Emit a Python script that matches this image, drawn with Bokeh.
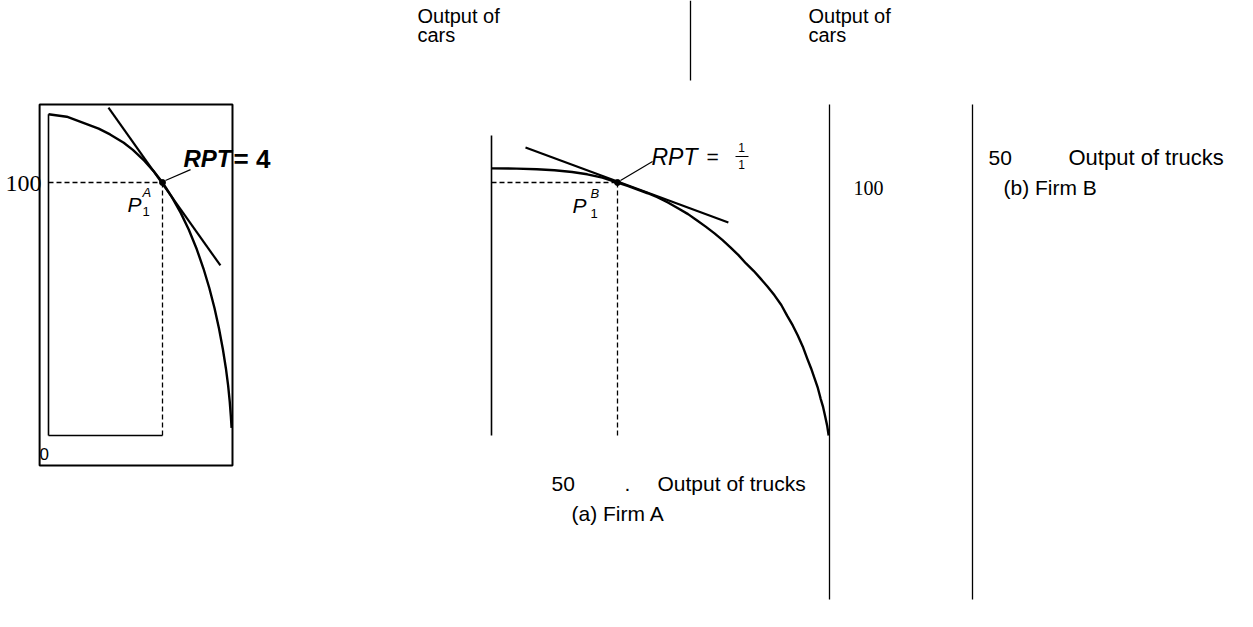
from bokeh.plotting import figure
from bokeh.models import Range1d
from bokeh.core.properties import value
from bokeh.embed import file_html
from bokeh.resources import INLINE

# ---------------- data (economic units: trucks on x, cars on y) ----------------
# Firm A production possibility curve
trucks_a = [0, 8, 15, 22, 27, 33, 37, 42, 46, 50, 54, 58, 61.5, 65, 68, 70.5, 72.8,
            74.8, 76.5, 77.8, 78.8, 79.5, 80, 80.3]
cars_a = [127, 126, 123.7, 121.3, 119, 115.7, 112.9, 108.6, 104.6, 100, 94.4, 88, 81.4,
          73.7, 65.9, 58.4, 50.4, 42.2, 34, 26.6, 19.6, 13.3, 7.3, 3]
tangent_a_trucks = [26.3, 75.4]
tangent_a_cars = [129.6, 67.2]
axis_a_top = 127

# Firm B production possibility curve
trucks_b = [0, 10, 18, 25, 32, 38, 44, 50, 54, 58, 62, 65.8, 70, 74, 78, 81.6, 85, 88.5,
            91.7, 94.8, 98, 101, 104, 106.7, 109.5, 112.3, 115, 117.3, 119.5, 121.5,
            123.5, 125.3, 126.8, 128.2, 129.5, 130.6, 131.6, 132.4, 133.2, 133.8]
cars_b = [105.6, 105.5, 105.26, 104.84, 104.14, 103.24, 101.92, 100, 98.65, 97.2, 95.75,
          94.2, 92.1, 89.8, 87.5, 85, 82.55, 79.9, 77.25, 74.4, 71.3, 68.0, 65.1, 62.1,
          58.9, 55.4, 51.6, 47.4, 43.6, 39.6, 35.2, 30.4, 26.6, 22.6, 18.8, 14.6, 11.2,
          7.6, 3.9, 0]
tangent_b_trucks = [13.5, 94.0]
tangent_b_cars = [113.8, 84.2]
axis_b_top = 118.6

# chosen points P1 (trucks, cars)
p1_trucks = 50
p1_cars = 100

W, H = 1237, 611
p = figure(width=W, height=H, x_range=Range1d(0, W), y_range=Range1d(H, 0),
           output_backend="svg", toolbar_location=None, min_border=0,
           x_axis_type=None, y_axis_type=None)
p.grid.visible = False
p.outline_line_color = None
p.background_fill_color = "white"
p.border_fill_color = "white"


def add_panel(name, ox, oy, sx, sy):
    p.extra_x_ranges[name] = Range1d((0 - ox) / sx, (W - ox) / sx)
    p.extra_y_ranges[name] = Range1d((oy - H) / sy, oy / sy)


add_panel("A", 48, 435, 2.28, 2.53)
add_panel("B", 491, 435, 2.52, 2.53)

SANS = "Liberation Sans"
SERIF = "Liberation Serif"

# ---------------- Panel A ----------------
A = dict(x_range_name="A", y_range_name="A")
p.quad(left=[-3.9], right=[80.7], bottom=[-11.9], top=[130.8], fill_color=None,
       line_color="black", line_width=2, **A)
p.line([0, 0], [axis_a_top, 0], line_color="black", line_width=1.6, **A)
p.line([0, p1_trucks], [0, 0], line_color="black", line_width=1.6, **A)
p.line([0, p1_trucks], [p1_cars, p1_cars], line_color="black", line_width=1.3, line_dash="5 3", **A)
p.line([p1_trucks, p1_trucks], [p1_cars, 0], line_color="black", line_width=1.3, line_dash="5 3", **A)
p.line(trucks_a, cars_a, line_color="black", line_width=2.4, line_join="round", **A)
p.line(tangent_a_trucks, tangent_a_cars, line_color="black", line_width=2.2, **A)
p.line([51.3, 62.3], [100.8, 105.1], line_color="black", line_width=1.2, **A)
p.scatter([p1_trucks], [p1_cars], size=6, color="black", **A)

# ---------------- Panel B ----------------
B = dict(x_range_name="B", y_range_name="B")
p.line([0, 0], [axis_b_top, 0], line_color="black", line_width=1.6, **B)
p.line([0, p1_trucks], [p1_cars, p1_cars], line_color="black", line_width=1.3, line_dash="5 3", **B)
p.line([p1_trucks, p1_trucks], [p1_cars, 0], line_color="black", line_width=1.3, line_dash="5 3", **B)
p.line(trucks_b, cars_b, line_color="black", line_width=2.4, line_join="round", **B)
p.line(tangent_b_trucks, tangent_b_cars, line_color="black", line_width=2.2, **B)
p.line([51.2, 63.9], [100.8, 108.3], line_color="black", line_width=1.2, **B)
p.scatter([p1_trucks], [p1_cars], size=6, color="black", **B)

# ---------------- separators (page layout) ----------------
p.segment(x0=[690, 829, 972], y0=[0, 104, 104], x1=[690, 829, 972], y1=[80, 599, 599],
          line_color="black", line_width=1.3)


def txt(x, y, s, size, font=SANS, style="normal", align="left", baseline="middle"):
    p.text(x=[x], y=[y], text=[s], text_font=value(font), text_font_size=f"{size}px",
           text_font_style=style, text_align=align, text_baseline=baseline, text_color="black")


# top labels
txt(417, 15, "Output of", 20)
txt(417, 34, "cars", 20)
txt(808, 15, "Output of", 20)
txt(808, 34, "cars", 20)

# panel A labels
txt(41, 183, "100", 24, font=SERIF, align="right")
txt(183, 158, "RPT", 24, style="bold italic")
txt(233, 158, "= 4", 26, style="bold")
txt(127, 204, "P", 21, style="italic")
txt(142, 192, "A", 13, style="italic")
txt(142, 211, "1", 13)
txt(39, 453, "0", 17)

# panel B labels
txt(651, 156, "RPT", 23, style="italic")
txt(706, 156, "=", 21)
txt(741, 147, "1", 12, align="center")
txt(741, 164, "1", 12, align="center")
p.segment(x0=[735], y0=[156], x1=[748], y1=[156], line_color="black", line_width=1)
txt(572, 205, "P", 21, style="italic")
txt(590, 193, "B", 13, style="italic")
txt(590, 213, "1", 13)

txt(853, 187, "100", 20, font=SERIF)

# trucks labels
txt(551, 483, "50", 21)
txt(624, 483, ".", 21)
txt(657, 483, "Output of trucks", 21)
txt(571, 513, "(a) Firm A", 21)

txt(988, 157, "50", 21)
txt(1068, 157, "Output of trucks", 22)
txt(1003, 187, "(b) Firm B", 21)

open("out.html", "w").write(file_html(p, INLINE))
